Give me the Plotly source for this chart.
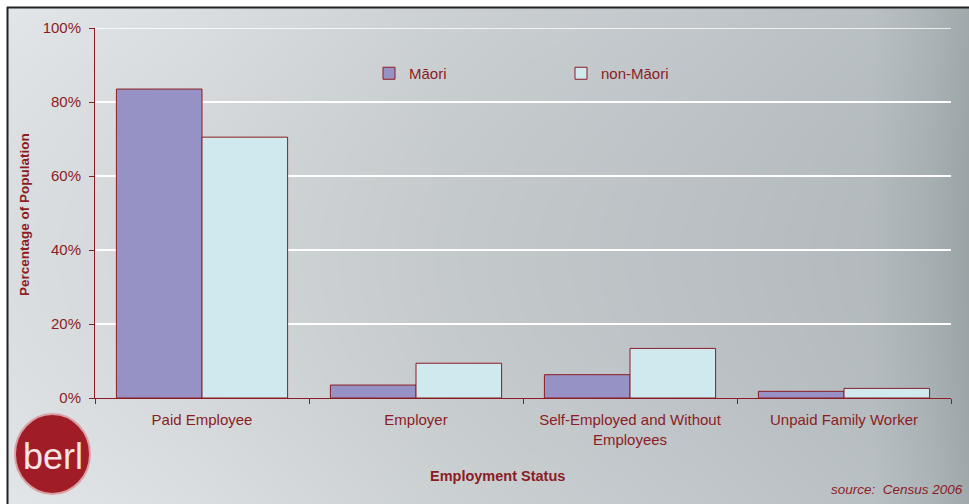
import base64
import struct
import zlib

import numpy as np
import plotly.graph_objects as go

# Employment status by ethnicity (share of employed population, %)
categories = ["Paid Employee", "Employer", "Self-Employed and Without<br>Employees", "Unpaid Family Worker"]
maori = [83.5, 3.5, 6.3, 1.8]
non_maori = [70.5, 9.4, 13.4, 2.6]
y_ticks = [0, 20, 40, 60, 80, 100]
y_tick_labels = ["0%", "20%", "40%", "60%", "80%", "100%"]

W, H = 969, 504
L, R, T, B = 95, 18, 28, 106
PW, PH = W - L - R, H - T - B

DARK_RED = "#8c1c24"
FONT = "Liberation Sans, Arial, sans-serif"


def px_to_paper_x(px):
    return (px - L) / PW


def px_to_paper_y(py):
    return 1 - (py - T) / PH


def png_data_uri(rgb):
    h, w, _ = rgb.shape
    raw = b"".join(b"\x00" + rgb[i].tobytes() for i in range(h))

    def chunk(tag, data):
        c = struct.pack(">I", len(data)) + tag + data
        return c + struct.pack(">I", zlib.crc32(tag + data) & 0xFFFFFFFF)

    png = b"\x89PNG\r\n\x1a\n"
    png += chunk(b"IHDR", struct.pack(">IIBBBBB", w, h, 8, 2, 0, 0, 0))
    png += chunk(b"IDAT", zlib.compress(raw, 9))
    png += chunk(b"IEND", b"")
    return "data:image/png;base64," + base64.b64encode(png).decode()


# Soft grey backdrop: light on the left, cooler and a little darker to the right
bw, bh = W - 8, H - 8
xs = np.linspace(0, 1, bw)
ys = np.linspace(0, 1, bh)
stops_x = [0.0, 0.2, 0.45, 0.7, 0.9, 0.96, 1.0]
stops_c = np.array([
    [226, 230, 232],
    [218, 222, 224],
    [204, 209, 211],
    [194, 200, 204],
    [186, 193, 197],
    [172, 181, 184],
    [160, 170, 172],
], dtype=float)
row = np.stack([np.interp(xs, stops_x, stops_c[:, k]) for k in range(3)], axis=1)
shade = 1 - 0.035 * np.sin(np.pi * ys)[:, None, None]
bg = np.clip(row[None, :, :] * shade, 0, 255).astype(np.uint8)
bg_uri = png_data_uri(bg)

fig = go.Figure()
fig.add_trace(go.Bar(
    x=categories, y=maori, name="Māori",
    marker=dict(color="#9692c6", line=dict(color=DARK_RED, width=1)),
))
fig.add_trace(go.Bar(
    x=categories, y=non_maori, name="non-Māori",
    marker=dict(color="#cfe9ef", line=dict(color=DARK_RED, width=1)),
))

fig.update_layout(
    width=W, height=H,
    margin=dict(l=L, r=R, t=T, b=B),
    paper_bgcolor="white",
    plot_bgcolor="rgba(0,0,0,0)",
    barmode="group",
    bargap=0.2,
    bargroupgap=0,
    font=dict(family=FONT, color=DARK_RED, size=15),
    showlegend=True,
    legend=dict(
        orientation="h",
        x=px_to_paper_x(369), y=px_to_paper_y(57),
        xanchor="left", yanchor="top",
        bgcolor="rgba(0,0,0,0)",
        entrywidth=147, entrywidthmode="pixels",
        font=dict(size=15, color=DARK_RED),
        traceorder="normal",
    ),
    xaxis=dict(
        showline=True, linecolor=DARK_RED, linewidth=1,
        ticks="outside", tickson="boundaries", ticklen=5, tickcolor=DARK_RED,
        showgrid=False,
        ticklabelstandoff=8,
        tickfont=dict(size=15, color=DARK_RED),
    ),
    yaxis=dict(
        range=[0, 100],
        tickvals=y_ticks, ticktext=y_tick_labels,
        showline=True, linecolor=DARK_RED, linewidth=1,
        ticks="outside", ticklen=5, tickcolor=DARK_RED,
        showgrid=True, gridcolor="white", gridwidth=1.5,
        zeroline=False,
        ticklabelstandoff=5,
        tickfont=dict(size=15, color=DARK_RED),
    ),
    images=[dict(
        source=bg_uri, xref="paper", yref="paper",
        x=px_to_paper_x(8), y=px_to_paper_y(8),
        sizex=bw / PW, sizey=bh / PH,
        sizing="stretch", xanchor="left", yanchor="top", layer="below",
    )],
    shapes=[
        # top gridline at 100%
        dict(type="line", xref="paper", yref="y",
             x0=0, x1=1, y0=100, y1=100,
             line=dict(color="white", width=1.5), layer="below"),
        # frame
        dict(type="line", xref="paper", yref="paper",
             x0=px_to_paper_x(7), x1=px_to_paper_x(W + 5),
             y0=px_to_paper_y(7.5), y1=px_to_paper_y(7.5),
             line=dict(color="#222222", width=2), layer="below"),
        dict(type="line", xref="paper", yref="paper",
             x0=px_to_paper_x(7.5), x1=px_to_paper_x(7.5),
             y0=px_to_paper_y(7), y1=px_to_paper_y(H + 5),
             line=dict(color="#222222", width=2), layer="below"),
        # logo disc
        dict(type="circle", xref="paper", yref="paper",
             x0=px_to_paper_x(15), x1=px_to_paper_x(90),
             y0=px_to_paper_y(414), y1=px_to_paper_y(494),
             fillcolor="#a01c26", line=dict(color="#d9a0a6", width=2), layer="above"),
    ],
    annotations=[
        dict(text="berl", xref="paper", yref="paper",
             x=px_to_paper_x(53), y=px_to_paper_y(456),
             xanchor="center", yanchor="middle", showarrow=False,
             font=dict(family=FONT, size=36, color="#f6e4e6")),
        dict(text="<b>Percentage of Population</b>", xref="paper", yref="paper",
             x=px_to_paper_x(25), y=px_to_paper_y(215), textangle=-90,
             xanchor="center", yanchor="middle", showarrow=False,
             font=dict(family=FONT, size=13.5, color=DARK_RED)),
        dict(text="<b>Employment Status</b>", xref="paper", yref="paper",
             x=px_to_paper_x(497), y=px_to_paper_y(476),
             xanchor="center", yanchor="middle", showarrow=False,
             font=dict(family=FONT, size=14.5, color=DARK_RED)),
        dict(text="<i>source:  Census 2006</i>", xref="paper", yref="paper",
             x=px_to_paper_x(965), y=px_to_paper_y(489),
             xanchor="right", yanchor="middle", showarrow=False,
             font=dict(family=FONT, size=13.5, color=DARK_RED)),
    ],
)

fig.write_html("out.html")
